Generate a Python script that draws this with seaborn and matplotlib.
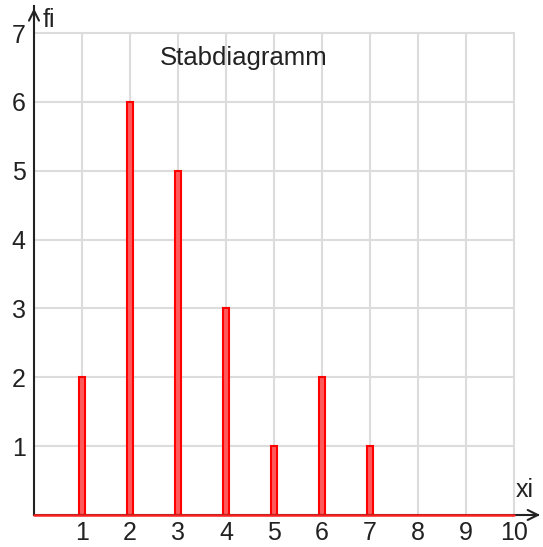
import matplotlib
matplotlib.use("Agg")
import matplotlib.pyplot as plt
import seaborn as sns
import pandas as pd

xi = [1, 2, 3, 4, 5, 6, 7]
fi = [2, 6, 5, 3, 1, 2, 1]
x_ticks = [1, 2, 3, 4, 5, 6, 7, 8, 9, 10]
y_ticks = [1, 2, 3, 4, 5, 6, 7]
title = "Stabdiagramm"

sns.set_theme(style="white")
plt.rcParams['font.family'] = ['Liberation Sans', 'DejaVu Sans']

df = pd.DataFrame({"xi": xi, "fi": fi})

fig = plt.figure(figsize=(5.43, 5.47), dpi=100)
ax = fig.add_axes([0, 0, 1, 1])
ax.set_facecolor("white")

# grid box 0..10 x 0..7
for xv in x_ticks:
    ax.plot([xv, xv], [0, 7], color="#dcdcdc", lw=1.5, zorder=0)
for yv in y_ticks:
    ax.plot([0, 10], [yv, yv], color="#dcdcdc", lw=1.5, zorder=0)

sns.barplot(data=df, x="xi", y="fi", native_scale=True, width=0.14,
            color="#ff5a5a", edgecolor="#ff0000", linewidth=1.5,
            saturation=1, ax=ax, zorder=2)

ax.set_xlim(-0.708, 10.604)
ax.set_ylim(-0.465, 7.48)

for s in ["top", "right"]:
    ax.spines[s].set_visible(False)
ax.spines["left"].set_position(("data", 0))
ax.spines["bottom"].set_position(("data", 0))
ax.spines["left"].set_bounds(0, 7.4)
ax.spines["bottom"].set_bounds(0, 10.5)
for s in ["left", "bottom"]:
    ax.spines[s].set_color("#222222")
    ax.spines[s].set_linewidth(1.5)
    ax.spines[s].set_zorder(3)

# red baseline
ax.plot([0, 10], [0, 0], color="#ff2020", lw=1.8, zorder=4)

# arrowheads
ax.annotate("", xy=(0, 7.4), xytext=(0, 7.15),
            arrowprops=dict(arrowstyle="->", lw=1.5, color="#222222",
                            mutation_scale=18), zorder=5)
ax.annotate("", xy=(10.6, 0), xytext=(10.3, 0),
            arrowprops=dict(arrowstyle="->", lw=1.5, color="#222222",
                            mutation_scale=18), zorder=5)

ax.set_xticks(x_ticks)
ax.set_yticks(y_ticks)
ax.set_xticklabels([str(v) for v in x_ticks])
ax.set_yticklabels([str(v) for v in y_ticks])
ax.tick_params(axis="both", direction="in", length=7, width=1.5,
               color="#111111", labelsize=18, labelcolor="#222222")
ax.tick_params(axis="x", pad=4)
ax.tick_params(axis="y", pad=6)
for t in ax.xaxis.get_major_ticks():
    t.tick1line.set_zorder(6)
ax.set_xlabel("")
ax.set_ylabel("")

ax.text(0.18, 7.19, "fi", fontsize=18, color="#222222", va="center", ha="left")
ax.text(10.23, 0.36, "xi", fontsize=18, color="#222222", va="center", ha="center")
ax.text(4.375, 6.64, title, fontsize=18.5, color="#222222", va="center", ha="center")

fig.savefig("out.png", dpi=100)
